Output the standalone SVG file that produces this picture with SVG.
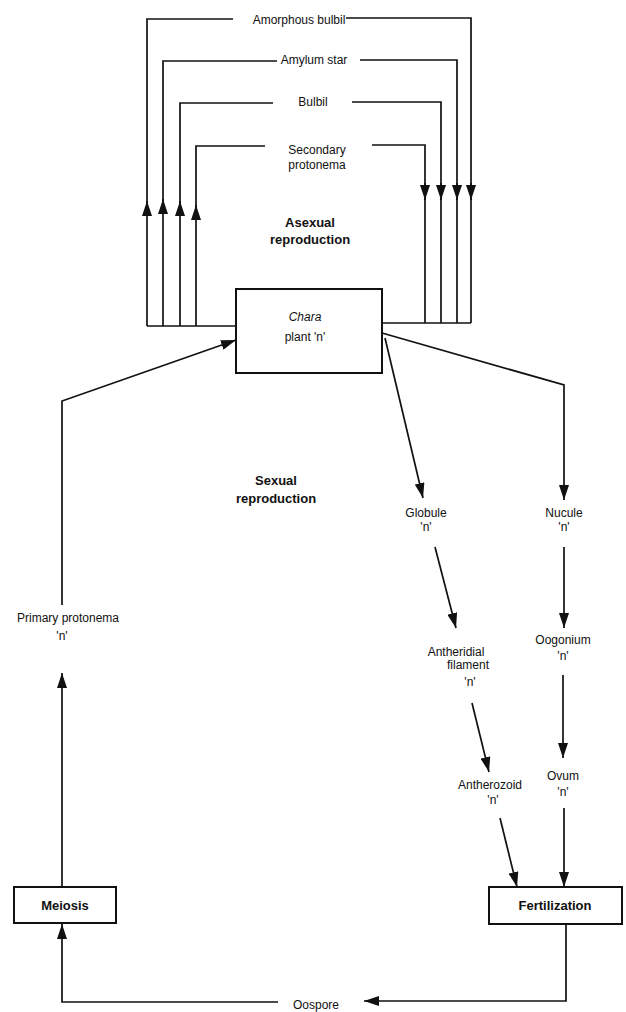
<svg xmlns="http://www.w3.org/2000/svg" width="626" height="1012" viewBox="0 0 626 1012">
<style>
.ln{fill:none;stroke:#111;stroke-width:1.7}
.ar{fill:none;stroke:#111;stroke-width:1.7;marker-end:url(#ah)}
.box{fill:#fff;stroke:#111;stroke-width:2}
text{font-family:"Liberation Sans",Arial,sans-serif;font-size:12px;fill:#111;text-anchor:middle}
.b{font-weight:bold;font-size:13px}
.i{font-style:italic}
</style>
<defs>
<marker id="ah" markerUnits="userSpaceOnUse" markerWidth="15" markerHeight="10" refX="15" refY="5" orient="auto">
<path d="M0,0 L15,5 L0,10 z" fill="#111"/>
</marker>
</defs>
<g id="connectors">
<!-- asexual loops -->
<path class="ln" d="M147,326 H236"/>
<path class="ln" d="M382,323 H471"/>
<path class="ar" d="M147,326 V201"/>
<path class="ln" d="M147,204 V19 H233"/>
<path class="ln" d="M346,18 H471 V186"/>
<path class="ar" d="M471,183 V200"/>
<path class="ln" d="M471,198 V323"/>
<path class="ar" d="M163,326 V199"/>
<path class="ln" d="M163,202 V61 H277"/>
<path class="ln" d="M360,60 H457 V186"/>
<path class="ar" d="M457,183 V200"/>
<path class="ln" d="M457,198 V323"/>
<path class="ar" d="M180,326 V201"/>
<path class="ln" d="M180,204 V103 H273"/>
<path class="ln" d="M352,102 H441 V186"/>
<path class="ar" d="M441,183 V200"/>
<path class="ln" d="M441,198 V323"/>
<path class="ar" d="M196,326 V205"/>
<path class="ln" d="M196,208 V146 H265"/>
<path class="ln" d="M372,145 H425 V186"/>
<path class="ar" d="M425,183 V200"/>
<path class="ln" d="M425,198 V323"/>
<!-- sexual cycle -->
<path class="ar" d="M62,605 V401 L236,340"/>
<path class="ar" d="M385,338 L423,498"/>
<path class="ar" d="M382,333 L564,385 V500"/>
<path class="ar" d="M435,547 L456,628"/>
<path class="ar" d="M564,547 V628"/>
<path class="ar" d="M472,703 L489,772"/>
<path class="ar" d="M563,675 V758"/>
<path class="ar" d="M500,818 L517,887"/>
<path class="ar" d="M564,808 V887"/>
<path class="ar" d="M566,924 V1001 H364"/>
<path class="ar" d="M278,1002 H62 V924"/>
<path class="ar" d="M62,887 V673"/>
</g>
<g id="label-amorphous"><text x="299" y="24">Amorphous bulbil</text></g>
<g id="label-amylum"><text x="314" y="64">Amylum  star</text></g>
<g id="label-bulbil"><text x="313" y="106">Bulbil</text></g>
<g id="label-secondary"><text x="317" y="154">Secondary</text><text x="317" y="169">protonema</text></g>
<g id="label-asexual"><text class="b" x="310" y="227">Asexual</text><text class="b" x="310" y="244">reproduction</text></g>
<g id="chara"><rect class="box" x="236" y="289" width="146" height="84"/><text class="i" x="305" y="321">Chara</text><text x="305" y="341">plant 'n'</text></g>
<g id="label-sexual"><text class="b" x="276" y="485">Sexual</text><text class="b" x="276" y="503">reproduction</text></g>
<g id="globule"><text x="426" y="517">Globule</text><text x="426" y="531">'n'</text></g>
<g id="nucule"><text x="564" y="517">Nucule</text><text x="564" y="531">'n'</text></g>
<g id="antheridial"><text x="456" y="656">Antheridial</text><text x="468" y="669">filament</text><text x="470" y="686">'n'</text></g>
<g id="oogonium"><text x="563" y="644">Oogonium</text><text x="563" y="660">'n'</text></g>
<g id="antherozoid"><text x="490" y="789">Antherozoid</text><text x="493" y="804">'n'</text></g>
<g id="ovum"><text x="563" y="780">Ovum</text><text x="563" y="796">'n'</text></g>
<g id="primary"><text x="68" y="622">Primary protonema</text><text x="62" y="640">'n'</text></g>
<g id="meiosis"><rect class="box" x="14" y="887" width="102" height="36"/><text class="b" x="65" y="910">Meiosis</text></g>
<g id="fertilization"><rect class="box" x="489" y="887" width="133" height="37"/><text class="b" x="555" y="910">Fertilization</text></g>
<g id="oospore"><text x="316" y="1009">Oospore</text></g>
</svg>
